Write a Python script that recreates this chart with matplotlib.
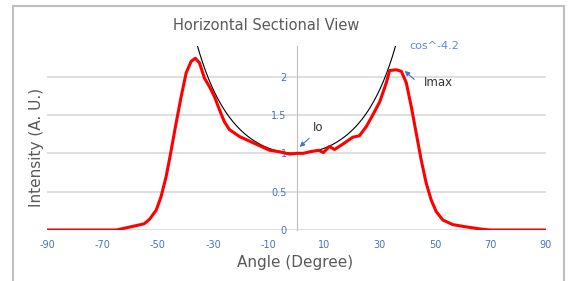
import numpy as np
import matplotlib.pyplot as plt
from matplotlib.patches import Rectangle

angle = [-90, -70, -65, -60, -55, -53, -50.6, -48.9, -47, -45.2, -43.4, -41.6,
         -39.8, -38, -36.5, -35, -33.2, -31.4, -29.6, -27.8, -26, -24.2, -20.6,
         -17, -13.4, -9.7, -6.1, -2.5, 0, 2.5, 4.7, 8, 9.7, 11.9, 13.7, 16.7,
         20.3, 22.7, 25.2, 27.5, 30, 32.4, 33.6, 36, 37.8, 39.6, 41.4, 43.2,
         45, 46.8, 48.6, 50.4, 52.8, 56.4, 61.3, 67, 70, 90]
intensity = [0, 0, 0.0, 0.04, 0.08, 0.14, 0.26, 0.43, 0.70, 1.04, 1.40, 1.74,
             2.05, 2.20, 2.24, 2.18, 1.98, 1.87, 1.74, 1.57, 1.41, 1.31, 1.22,
             1.16, 1.10, 1.04, 1.02, 0.99, 1.0, 1.0, 1.02, 1.04, 1.01, 1.09, 1.05, 1.12,
             1.21, 1.23, 1.35, 1.50, 1.67, 1.92, 2.08, 2.09, 2.07, 1.92, 1.61, 1.26,
             0.91, 0.61, 0.39, 0.24, 0.13, 0.07, 0.04, 0.01, 0, 0]

# reference curve cos^-4.2
cos_exp = -4.2
fit_range = (-36, 36)

xticks = [-90, -70, -50, -30, -10, 10, 30, 50, 70, 90]
yticks = [0, 0.5, 1, 1.5, 2]
ytick_labels = ["0", "0.5", "1", "1.5", "2"]

blue = "#4472c4"
gray_text = "#595959"

fig = plt.figure(figsize=(5.69, 2.81), dpi=100)
ax = fig.add_axes([47 / 569, 1 - 230 / 281, 499 / 569, 184 / 281])

ax.set_xlim(-90, 90)
ax.set_ylim(0, 2.4)

# gridlines
for y in yticks:
    ax.axhline(y, color="#d9d9d9", lw=1.2, zorder=0)

for s in ["top", "right", "bottom"]:
    ax.spines[s].set_visible(False)
ax.spines["left"].set_position(("data", 0))
ax.spines["left"].set_color("#bfbfbf")
ax.spines["left"].set_linewidth(0.8)

ax.set_xticks(xticks)
ax.set_xticklabels([str(t) for t in xticks])
ax.set_yticks(yticks)
ax.set_yticklabels(ytick_labels)
ax.tick_params(axis="x", length=0, pad=7, labelsize=7, labelcolor=blue)
ax.tick_params(axis="y", length=0, pad=7, labelsize=7, labelcolor=blue)

th = np.linspace(fit_range[0], fit_range[1], 200)
ax.plot(th, np.cos(np.radians(th)) ** cos_exp, color="black", lw=0.8, zorder=3)
ax.plot(angle, intensity, color="red", lw=2.2, zorder=4,
        solid_joinstyle="round", solid_capstyle="round")

# annotations
ax.text(40.8, 2.40, "cos^-4.2", color="#5b8bd6", fontsize=8, va="center", clip_on=False)
ax.annotate("", xy=(38.3, 2.10), xytext=(43.2, 1.94),
            arrowprops=dict(arrowstyle="-|>", color=blue, lw=0.8, mutation_scale=7))
ax.text(46.0, 1.92, "Imax", color="#333333", fontsize=8.5, va="center")
ax.annotate("", xy=(0.4, 1.06), xytext=(5.3, 1.22),
            arrowprops=dict(arrowstyle="-|>", color=blue, lw=0.8, mutation_scale=7))
ax.text(5.8, 1.34, "Io", color="#333333", fontsize=8.5, va="center")

fig.text(266 / 569, 1 - 25 / 281, "Horizontal Sectional View", ha="center", va="center",
         fontsize=10.5, color=gray_text)
fig.text(295 / 569, 1 - 262 / 281, "Angle (Degree)", ha="center", va="center",
         fontsize=11, color=gray_text)
fig.text(37 / 569, 1 - 147 / 281, "Intensity (A. U.)", ha="center", va="center",
         rotation=90, fontsize=11, color=gray_text)

# outer frame
fig.patches.append(Rectangle((13 / 569, -0.1), 551 / 569, 1.1 - 6 / 281,
                             transform=fig.transFigure, fill=False,
                             edgecolor="#c0c0c0", lw=1.5))

fig.savefig("out.png", dpi=100)
